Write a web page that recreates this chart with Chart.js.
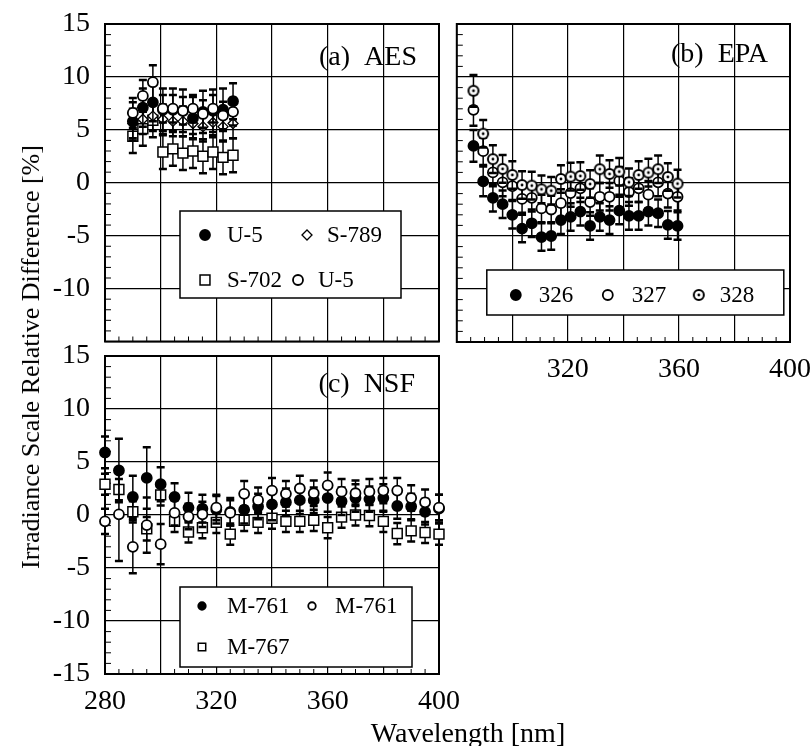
<!DOCTYPE html>
<html>
<head>
<meta charset="utf-8">
<script src="https://cdn.jsdelivr.net/npm/chart.js@4.4.0/dist/chart.umd.min.js"></script>
<style>
  body { margin: 0; background: #fff; width: 811px; height: 746px; position: relative; overflow: hidden;
         font-family: "Liberation Serif", "Times New Roman", serif; }
  canvas { position: absolute; }
  #yTitle { position: absolute; left: 31px; top: 357px; transform: translate(-50%, -50%) rotate(-90deg);
            white-space: nowrap; font-size: 26px; line-height: 26px; }
  #xTitle { position: absolute; left: 468px; top: 733px; transform: translate(-50%, -50%);
            white-space: nowrap; font-size: 28px; line-height: 28px; }
</style>
</head>
<body>
<canvas id="chartA" width="450" height="350" style="left:0;top:0"></canvas>
<canvas id="chartB" width="361" height="395" style="left:450px;top:0"></canvas>
<canvas id="chartC" width="480" height="400" style="left:0;top:320px"></canvas>
<div id="yTitle">Irradiance Scale Relative Difference [%]</div>
<div id="xTitle">Wavelength [nm]</div>
<script>
// axis ticks
var xTickLabels = [280, 320, 360, 400];
var yTickLabels = [-15, -10, -5, 0, 5, 10, 15];

// (a) AES
var aesWavelength = [290, 293.6, 297.2, 300.8, 304.4, 308, 311.6, 315.2, 318.8, 322.4, 326];
var aesU5Filled = [5.8, 7.1, 7.6, 6.9, 6.9, 6.8, 6.1, 6.7, 6.8, 6.9, 7.7];
var aesU5FilledErr = [1.8, 1.8, 1.8, 2.0, 2.0, 2.0, 2.0, 2.0, 2.0, 2.0, 1.7];
var aesS789 = [5.6, 6.0, 6.3, 6.0, 5.8, 5.8, 5.6, 5.3, 5.7, 5.3, 5.6];
var aesS789Err = [1.4, 1.4, 1.4, 1.4, 1.4, 1.4, 1.4, 1.4, 1.4, 1.4, 1.4];
var aesS702 = [4.4, 5.1, 5.9, 2.9, 3.2, 2.8, 3.0, 2.5, 2.9, 2.4, 2.6];
var aesS702Err = [1.6, 1.6, 1.6, 1.6, 1.6, 1.6, 1.6, 1.6, 1.6, 1.6, 1.6];
var aesU5Open = [6.6, 8.2, 9.5, 7.0, 7.0, 6.8, 7.0, 6.5, 7.0, 6.35, 6.7];
var aesU5OpenErr = [1.4, 1.5, 1.6, 1.3, 1.3, 1.3, 1.3, 1.3, 1.3, 1.3, 1.3];

// (b) EPA
var epaWavelength = [286, 289.5, 293, 296.5, 300, 303.5, 307, 310.5, 314, 317.5, 321,
                     324.5, 328, 331.5, 335, 338.5, 342, 345.5, 349, 352.5, 356, 359.5];
var epa326 = [3.5, 0.15, -1.4, -2.0, -3.0, -4.3, -3.8, -5.1, -5.0, -3.5, -3.2,
              -2.7, -4.05, -3.2, -3.5, -2.6, -3.1, -3.1, -2.7, -2.85, -3.95, -4.05];
var epa326Err = [1.5, 1.4, 1.3, 1.3, 1.3, 1.3, 1.3, 1.3, 1.3, 1.3, 1.3,
                 1.3, 1.3, 1.3, 1.3, 1.3, 1.3, 1.3, 1.3, 1.3, 1.3, 1.3];
var epa327 = [6.9, 3.0, 1.0, 0.06, -0.3, -1.5, -1.4, -2.4, -2.5, -1.9, -0.95,
              -0.5, -1.8, -1.3, -1.3, 0.2, -0.85, -0.5, -1.1, 0.06, -1.0, -1.3];
var epa327Err = [1.5, 1.3, 1.3, 1.3, 1.3, 1.3, 1.3, 1.3, 1.3, 1.3, 1.3,
                 1.3, 1.3, 1.3, 1.3, 1.3, 1.3, 1.3, 1.3, 1.3, 1.3, 1.3];
var epa328 = [8.7, 4.65, 2.25, 1.33, 0.76, -0.19, -0.25, -0.6, -0.73, 0.38, 0.6,
              0.66, -0.1, 1.3, 0.85, 1.07, 0.07, 0.76, 0.98, 1.3, 0.57, -0.06];
var epa328Err = [1.5, 1.3, 1.3, 1.3, 1.3, 1.3, 1.3, 1.3, 1.3, 1.3, 1.3,
                 1.3, 1.3, 1.3, 1.3, 1.3, 1.3, 1.3, 1.3, 1.3, 1.3, 1.3];

// (c) NSF
var nsfWavelength = [280, 285, 290, 295, 300, 305, 310, 315, 320, 325, 330, 335, 340,
                     345, 350, 355, 360, 365, 370, 375, 380, 385, 390, 395, 400];
var nsfM761Filled = [5.9, 4.2, 1.7, 3.5, 2.9, 1.7, 0.7, 0.6, 0.5, 0.3, 0.5, 0.8, 1.0,
                     1.2, 1.4, 1.4, 1.6, 1.3, 1.6, 1.5, 1.6, 0.85, 0.8, 0.3, 0.6];
var nsfM761FilledErr = [1.5, 3.0, 2.0, 2.9, 1.6, 1.3, 1.4, 1.3, 1.3, 1.3, 1.3, 1.2, 1.5,
                        1.3, 1.3, 1.2, 1.3, 1.3, 1.3, 1.2, 1.3, 1.2, 1.2, 1.2, 1.3];
var nsfM761Open = [-0.6, 0.06, -3.0, -0.95, -2.75, 0.2, -0.15, 0.06, 0.7, 0.2, 2.0, 1.4, 2.3,
                   2.0, 2.5, 2.05, 2.8, 2.2, 2.05, 2.2, 2.3, 2.3, 1.6, 1.2, 0.7];
var nsfM761OpenErr = [1.2, 4.4, 2.5, 2.6, 1.9, 1.2, 1.2, 1.2, 1.2, 1.2, 1.2, 1.2, 1.2,
                      1.2, 1.2, 1.2, 1.2, 1.2, 1.2, 1.2, 1.2, 1.2, 1.2, 1.2, 1.2];
var nsfM767 = [2.9, 2.4, 0.3, -1.3, 1.9, -0.6, -1.6, -1.2, -0.7, -1.8, -0.5, -0.7, -0.3,
               -0.6, -0.6, -0.5, -1.2, -0.2, 0, -0.05, -0.6, -1.75, -1.5, -1.65, -1.8];
var nsfM767Err = [1.0, 1.0, 1.0, 1.1, 1.0, 1.0, 1.0, 1.0, 1.0, 1.0, 1.0, 1.0, 1.0,
                  1.0, 1.0, 1.0, 1.0, 1.0, 1.0, 1.0, 1.0, 1.0, 1.0, 1.0, 1.0];

Chart.defaults.font.family = '"Liberation Serif", "Times New Roman", serif';
Chart.defaults.color = '#000';

// open circle with a dot in the middle (EPA 328)
function dottedCircle() {
    var c = document.createElement('canvas');
    c.width = 14; c.height = 14;
    var g = c.getContext('2d');
    g.fillStyle = '#fff'; g.strokeStyle = '#000'; g.lineWidth = 2;
    g.beginPath(); g.arc(7, 7, 5, 0, Math.PI * 2); g.fill(); g.stroke();
    g.fillStyle = '#000';
    g.beginPath(); g.arc(7, 7, 1.4, 0, Math.PI * 2); g.fill();
    return c;
}

function points(xs, ys) {
    return xs.map(function (x, i) { return {x: x, y: ys[i]}; });
}

function series(label, xs, ys, errs, style) {
    return Object.assign({
        label: label,
        data: points(xs, ys),
        errors: errs,
        clip: false,
        pointRadius: 5,
        pointHoverRadius: 5,
        borderWidth: 1.8,
        borderColor: '#000',
        backgroundColor: '#fff'
    }, style);
}

var filledDot = {pointStyle: 'circle', backgroundColor: '#000'};
var openDot = {pointStyle: 'circle', backgroundColor: '#fff'};
var squareDot = {pointStyle: 'rect', pointRadius: 7, pointHoverRadius: 7, borderWidth: 1.5};
var diamondDot = {pointStyle: 'rectRot', pointRadius: 5, borderWidth: 1.3};

// error bars drawn just before each dataset's markers
var errorBars = {
    id: 'errorBars',
    beforeDatasetDraw: function (chart, args) {
        var ds = chart.data.datasets[args.index];
        if (!ds.errors) return;
        var ctx = chart.ctx, yScale = chart.scales.y;
        ctx.save();
        ctx.strokeStyle = '#000';
        args.meta.data.forEach(function (pt, i) {
            var v = ds.data[i].y, e = ds.errors[i];
            var top = yScale.getPixelForValue(v + e), bot = yScale.getPixelForValue(v - e);
            ctx.lineWidth = 1.5;
            ctx.beginPath(); ctx.moveTo(pt.x, top); ctx.lineTo(pt.x, bot); ctx.stroke();
            ctx.lineWidth = 2.5;
            ctx.beginPath();
            ctx.moveTo(pt.x - 4, top); ctx.lineTo(pt.x + 4, top);
            ctx.moveTo(pt.x - 4, bot); ctx.lineTo(pt.x + 4, bot);
            ctx.stroke();
        });
        ctx.restore();
    }
};

// frame round the plot plus minor ticks on the left and bottom
var frame = {
    id: 'frame',
    beforeDatasetsDraw: function (chart) {
        var ctx = chart.ctx, a = chart.chartArea, s = chart.scales;
        ctx.save();
        ctx.strokeStyle = '#000';
        ctx.lineWidth = 1;
        ctx.beginPath();
        for (var v = -15; v <= 15; v++) {
            if (v % 5 === 0) continue;
            var y = s.y.getPixelForValue(v);
            ctx.moveTo(a.left, y); ctx.lineTo(a.left + 6, y);
        }
        for (var w = 280; w <= 400; w += 5) {
            if (w % 20 === 0) continue;
            var x = s.x.getPixelForValue(w);
            ctx.moveTo(x, a.bottom); ctx.lineTo(x, a.bottom - 5);
        }
        ctx.stroke();
        ctx.lineWidth = 2;
        ctx.strokeRect(a.left, a.top, a.right - a.left, a.bottom - a.top);
        ctx.restore();
    }
};

// boxed legend inside the plot and the panel name
var boxLegend = {
    id: 'boxLegend',
    afterDatasetsDraw: function (chart, args, o) {
        var ctx = chart.ctx, a = chart.chartArea;
        var x0 = a.left + o.left, y0 = a.top + o.top;
        ctx.save();
        ctx.fillStyle = '#fff';
        ctx.fillRect(x0, y0, o.width, o.height);
        ctx.strokeStyle = '#000';
        ctx.lineWidth = 1.5;
        ctx.strokeRect(x0, y0, o.width, o.height);
        ctx.font = o.fontSize + 'px "Liberation Serif"';
        ctx.textBaseline = 'middle';
        ctx.textAlign = 'left';
        o.items.forEach(function (it) {
            var ds = chart.data.datasets[it.ds];
            ctx.fillStyle = ds.backgroundColor;
            ctx.strokeStyle = ds.borderColor;
            ctx.lineWidth = ds.borderWidth;
            Chart.helpers.drawPoint(ctx, {
                pointStyle: ds.pointStyle,
                radius: ds.pointRadius * o.markerScale,
                borderWidth: ds.borderWidth,
                rotation: 0
            }, x0 + it.mx, y0 + it.my);
            ctx.fillStyle = '#000';
            ctx.fillText(ds.label, x0 + it.tx, y0 + it.my + 1);
        });
        ctx.font = '28px "Liberation Serif"';
        ctx.textAlign = 'right';
        ctx.fillText(o.title, a.right - o.titleRight, a.top + o.titleTop);
        ctx.restore();
    }
};

function scales(opt) {
    return {
        x: {
            type: 'linear', min: 280, max: 400,
            grid: {color: '#000', lineWidth: 1.2, drawTicks: false},
            border: {display: false},
            ticks: {
                display: opt.xLabels, stepSize: 20, autoSkip: false, maxRotation: 0, padding: 11,
                font: {size: 28},
                callback: function (v) {
                    return xTickLabels.indexOf(v) >= 0 && opt.xShow.indexOf(v) >= 0 ? String(v) : '';
                }
            },
            afterFit: function (s) { s.height = opt.xHeight; s.paddingLeft = 0; s.paddingRight = 0; }
        },
        y: {
            type: 'linear', min: -15, max: 15,
            grid: {color: '#000', lineWidth: 1.2, drawTicks: false},
            border: {display: false},
            ticks: {
                display: opt.yLabels, stepSize: 5, autoSkip: false, padding: 15,
                font: {size: 28},
                callback: function (v) {
                    return yTickLabels.indexOf(v) >= 0 && opt.yShow.indexOf(v) >= 0 ? String(v) : '';
                }
            },
            afterFit: function (s) { s.width = opt.yWidth; s.paddingTop = 0; s.paddingBottom = 0; }
        }
    };
}

function makeChart(id, datasets, scaleOpt, padding, legend) {
    return new Chart(document.getElementById(id), {
        type: 'scatter',
        data: {datasets: datasets},
        plugins: [errorBars, frame, boxLegend],
        options: {
            responsive: false,
            animation: false,
            layout: {padding: padding},
            scales: scales(scaleOpt),
            plugins: {legend: {display: false}, tooltip: {enabled: false}, boxLegend: legend}
        }
    });
}

// (a) AES
makeChart('chartA', [
    series('U-5', aesWavelength, aesU5Open, aesU5OpenErr, openDot),
    series('U-5', aesWavelength, aesU5Filled, aesU5FilledErr, filledDot),
    series('S-789', aesWavelength, aesS789, aesS789Err, diamondDot),
    series('S-702', aesWavelength, aesS702, aesS702Err, squareDot)
], {
    xLabels: false, xShow: [], xHeight: 8,
    yLabels: true, yShow: [-10, -5, 0, 5, 10, 15], yWidth: 105
}, {top: 24, right: 11, left: 0, bottom: 0}, {
    left: 75, top: 187, width: 221, height: 87, fontSize: 23, markerScale: 1,
    title: '(a)  AES', titleRight: 22, titleTop: 34,
    items: [
        {ds: 1, mx: 25, my: 24, tx: 47},
        {ds: 2, mx: 127, my: 24, tx: 147},
        {ds: 3, mx: 25, my: 69, tx: 47},
        {ds: 0, mx: 118, my: 69, tx: 138}
    ]
});

// (b) EPA
makeChart('chartB', [
    series('328', epaWavelength, epa328, epa328Err, {pointStyle: dottedCircle()}),
    series('327', epaWavelength, epa327, epa327Err, openDot),
    series('326', epaWavelength, epa326, epa326Err, filledDot)
], {
    xLabels: true, xShow: [320, 360, 400], xHeight: 53,
    yLabels: false, yShow: [], yWidth: 5
}, {top: 24, right: 21, left: 0, bottom: 0}, {
    left: 30, top: 246, width: 297, height: 45, fontSize: 23, markerScale: 1,
    title: '(b)  EPA', titleRight: 22, titleTop: 31,
    items: [
        {ds: 2, mx: 29, my: 25, tx: 52},
        {ds: 1, mx: 121, my: 25, tx: 145},
        {ds: 0, mx: 212, my: 25, tx: 233}
    ]
});

// (c) NSF
makeChart('chartC', [
    series('M-761', nsfWavelength, nsfM761Open, nsfM761OpenErr, openDot),
    series('M-761', nsfWavelength, nsfM761Filled, nsfM761FilledErr, filledDot),
    series('M-767', nsfWavelength, nsfM767, nsfM767Err, squareDot)
], {
    xLabels: true, xShow: [280, 320, 360, 400], xHeight: 46,
    yLabels: true, yShow: [-15, -10, -5, 0, 5, 10, 15], yWidth: 105
}, {top: 36, right: 41, left: 0, bottom: 0}, {
    left: 75, top: 231, width: 232, height: 80, fontSize: 23, markerScale: 0.75,
    title: '(c)  NSF', titleRight: 24, titleTop: 29,
    items: [
        {ds: 1, mx: 22, my: 19, tx: 47},
        {ds: 0, mx: 132, my: 19, tx: 155},
        {ds: 2, mx: 22, my: 60, tx: 47}
    ]
});
</script>
</body>
</html>
